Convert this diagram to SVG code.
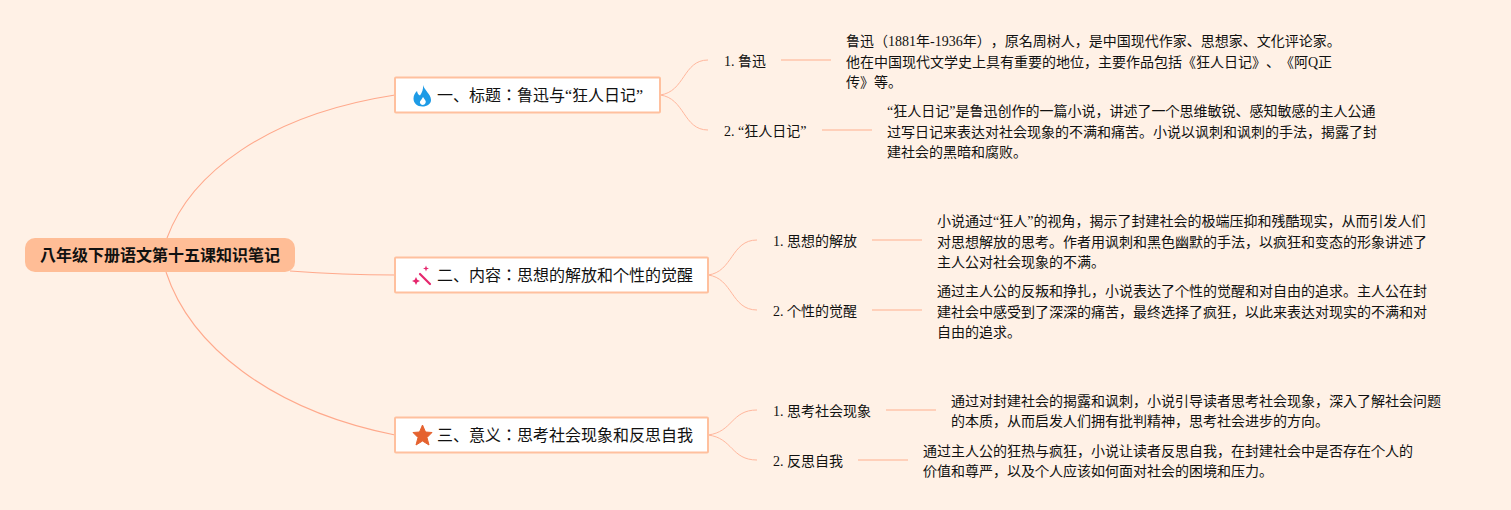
<svg xmlns="http://www.w3.org/2000/svg" width="1511" height="510" viewBox="0 0 1511 510">
<style>
text{font-family:"Liberation Serif","Noto Sans CJK JP",sans-serif;fill:#111;text-spacing-trim:space-all}
.leaf{font-size:14px}
.branch{font-size:16px}
.root{font-size:16px;font-weight:700}
.box{fill:#fff;stroke:#ffc09e;stroke-width:2}
.c{fill:none;stroke:#ffa98c;stroke-width:1.100}
.s{fill:none;stroke:#ffb79d;stroke-width:1}
.u{fill:none;stroke:#ffc5ab;stroke-width:1.500}
</style>
<rect width="1511" height="510" fill="#fff1e6"/>
<g id="connectors">
<path class="c" d="M167 238C190 175 265 115 395 95"/>
<path class="c" d="M290 271C330 274 360 275 395 275"/>
<path class="c" d="M166 272C190 345 270 410 395 435"/>
<path class="s" d="M660 95C685 92 683 60 708 60"/>
<path class="s" d="M660 95C685 98 683 130 708 130"/>
<path class="s" d="M708 275C733 272 731 240 757 240"/>
<path class="s" d="M708 275C733 278 731 310 757 310"/>
<path class="s" d="M708 435C733 432 731 410 757 410"/>
<path class="s" d="M708 435C733 438 731 460 757 460"/>
<path class="u" d="M781 60H831"/>
<path class="u" d="M822 130H872"/>
<path class="u" d="M872 240H922"/>
<path class="u" d="M872 310H922"/>
<path class="u" d="M886 410H936"/>
<path class="u" d="M858 460H908"/>
</g>
<g id="root"><rect x="25" y="238" width="270" height="34" rx="10" fill="#ffbd96"/><text class="root" x="40" y="261">八年级下册语文第十五课知识笔记</text></g>
<g id="b1"><rect class="box" x="395" y="77.500" width="265" height="35" rx="1"/>
<path d="M423 85C424 90 431 94 431 100C431 104 427 106.500 422.500 106.500C417 106.500 413.500 103 413.500 98.500C413.500 95 415.500 92.500 417 91C417.500 93 418 95 420 95.500C422 92.500 423.500 89 423 85Z" fill="#1d9be6"/><path d="M423 97C425 100 426.500 101 425.500 103C424.500 105.500 421 105.500 420 103C419.500 101 421.500 100 423 97Z" fill="#fff"/>
<text class="branch" x="437" y="101">一、标题：鲁迅与“狂人日记”</text></g>
<g id="b2"><rect class="box" x="395" y="257.500" width="313" height="35" rx="1"/>
<path d="M420 274L430 284" stroke="#e5276d" stroke-width="2.200" stroke-linecap="round" fill="none"/>
<path d="M416 277L417.300 279.700L420 281L417.300 282.300L416 285L414.700 282.300L412 281L414.700 279.700ZM426 265.500L426.800 267.700L429 268.500L426.800 269.300L426 271.500L425.200 269.300L423 268.500L425.200 267.700Z" fill="#e5276d"/>
<text class="branch" x="437" y="281">二、内容：思想的解放和个性的觉醒</text></g>
<g id="b3"><rect class="box" x="395" y="417.500" width="313" height="35" rx="1"/>
<path d="M422.500 425L425.500 432L432 432.500L427 437.500L429 445L422.500 441L416 445L418 437.500L413 432.500L419.500 432Z" fill="#e5622f" stroke="#e5622f" stroke-linejoin="round"/>
<text class="branch" x="437" y="441">三、意义：思考社会现象和反思自我</text></g>
<g id="l1"><text class="leaf" x="724" y="66">1. 鲁迅</text></g>
<g id="l1t"><text class="leaf" x="846" y="46">鲁迅（1881年-1936年），原名周树人，是中国现代作家、思想家、文化评论家。</text><text class="leaf" x="846" y="67">他在中国现代文学史上具有重要的地位，主要作品包括《狂人日记》、《阿Q正</text><text class="leaf" x="846" y="87">传》等。</text></g>
<g id="l2"><text class="leaf" x="724" y="136">2. “狂人日记”</text></g>
<g id="l2t"><text class="leaf" x="887" y="116">“狂人日记”是鲁迅创作的一篇小说，讲述了一个思维敏锐、感知敏感的主人公通</text><text class="leaf" x="887" y="137">过写日记来表达对社会现象的不满和痛苦。小说以讽刺和讽刺的手法，揭露了封</text><text class="leaf" x="887" y="157">建社会的黑暗和腐败。</text></g>
<g id="l3"><text class="leaf" x="773" y="246">1. 思想的解放</text></g>
<g id="l3t"><text class="leaf" x="937" y="226">小说通过“狂人”的视角，揭示了封建社会的极端压抑和残酷现实，从而引发人们</text><text class="leaf" x="937" y="247">对思想解放的思考。作者用讽刺和黑色幽默的手法，以疯狂和变态的形象讲述了</text><text class="leaf" x="937" y="267">主人公对社会现象的不满。</text></g>
<g id="l4"><text class="leaf" x="773" y="316">2. 个性的觉醒</text></g>
<g id="l4t"><text class="leaf" x="937" y="296">通过主人公的反叛和挣扎，小说表达了个性的觉醒和对自由的追求。主人公在封</text><text class="leaf" x="937" y="317">建社会中感受到了深深的痛苦，最终选择了疯狂，以此来表达对现实的不满和对</text><text class="leaf" x="937" y="337">自由的追求。</text></g>
<g id="l5"><text class="leaf" x="773" y="416">1. 思考社会现象</text></g>
<g id="l5t"><text class="leaf" x="951" y="406">通过对封建社会的揭露和讽刺，小说引导读者思考社会现象，深入了解社会问题</text><text class="leaf" x="951" y="426">的本质，从而启发人们拥有批判精神，思考社会进步的方向。</text></g>
<g id="l6"><text class="leaf" x="773" y="466">2. 反思自我</text></g>
<g id="l6t"><text class="leaf" x="923" y="456">通过主人公的狂热与疯狂，小说让读者反思自我，在封建社会中是否存在个人的</text><text class="leaf" x="923" y="476">价值和尊严，以及个人应该如何面对社会的困境和压力。</text></g>
</svg>
